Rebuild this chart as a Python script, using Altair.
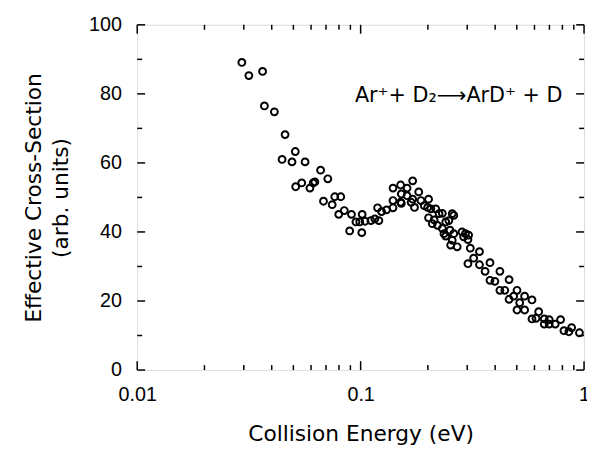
import altair as alt
import pandas as pd

# Collision energy (eV)
energy = [0.0294, 0.0316, 0.0364, 0.0371, 0.0411, 0.0459, 0.0445, 0.0493, 0.0510, 0.0564,
          0.0662, 0.0713, 0.0512, 0.0545, 0.0593, 0.0613, 0.0624, 0.0682, 0.0746, 0.0766,
          0.0815, 0.0798, 0.0845, 0.0910, 0.0953, 0.0991, 0.1016, 0.1047, 0.0893, 0.1012,
          0.1112, 0.1158, 0.1207, 0.1191, 0.1241, 0.1306, 0.1396, 0.1396, 0.1396, 0.1510,
          0.1521, 0.1614, 0.1710, 0.1614, 0.1510, 0.1710, 0.1820, 0.1862, 0.1742, 0.1927,
          0.2014, 0.2061, 0.2168, 0.2244, 0.2321, 0.2014, 0.2133, 0.2094, 0.2208, 0.2321,
          0.2483, 0.2570, 0.2512, 0.2404, 0.2570, 0.2529, 0.1521, 0.1683, 0.1995, 0.2612,
          0.2404, 0.2361, 0.2612, 0.2704, 0.2844, 0.2944, 0.2891, 0.3043, 0.3022, 0.3097,
          0.3404, 0.3206, 0.3022, 0.3404, 0.3793, 0.3606, 0.4201, 0.3793, 0.3990, 0.4618,
          0.4201, 0.4418, 0.5012, 0.4618, 0.4842, 0.5420, 0.5152, 0.5848, 0.5012, 0.5420,
          0.6266, 0.5848, 0.6095, 0.6637, 0.6982, 0.6637, 0.6982, 0.7430, 0.7852, 0.8128,
          0.8551, 0.9537, 0.8800]

# Effective cross-section (arb. units)
cross = [89.1, 85.3, 86.5, 76.5, 74.8, 68.2, 61.0, 60.3, 63.3, 60.3,
         57.9, 55.4, 53.1, 54.2, 52.7, 54.2, 54.5, 48.9, 47.9, 50.2,
         50.2, 45.1, 46.2, 45.1, 42.9, 42.9, 45.1, 43.1, 40.3, 39.8,
         43.3, 43.8, 43.3, 47.0, 45.9, 46.4, 47.0, 49.1, 52.7, 53.6,
         51.0, 52.7, 54.8, 50.5, 48.6, 49.5, 51.6, 49.1, 47.1, 47.6,
         49.5, 46.7, 46.7, 45.3, 45.4, 44.1, 43.5, 42.4, 41.9, 41.0,
         43.3, 45.3, 40.5, 38.8, 37.6, 36.2, 48.3, 48.6, 47.1, 44.8,
         42.9, 39.5, 39.5, 35.7, 40.0, 39.5, 38.6, 39.1, 37.8, 35.3,
         34.3, 32.4, 30.8, 30.5, 31.1, 28.6, 28.6, 26.0, 25.7, 26.2,
         23.1, 23.1, 23.1, 20.5, 21.4, 21.4, 19.5, 20.3, 17.4, 17.4,
         16.9, 14.8, 15.0, 14.8, 14.6, 13.3, 13.3, 13.3, 14.6, 11.4,
         11.1, 10.8, 12.3]

x_major = [0.01, 0.1, 1]
x_minor = [0.02, 0.03, 0.04, 0.05, 0.06, 0.07, 0.08, 0.09,
           0.2, 0.3, 0.4, 0.5, 0.6, 0.7, 0.8, 0.9]
y_major = [0, 20, 40, 60, 80, 100]
y_minor = [10, 30, 50, 70, 90]

ann_x = [0.80]
ann_y = [77.5]
ann_text = ["Ar\u207a+ D\u2082\u27f6ArD\u207a + D"]

W, H = 453, 350
FONT = "Liberation Sans"
TFONT = "DejaVu Sans"

df = pd.DataFrame({"E": energy, "S": cross})

xscale = alt.Scale(type="log", domain=[0.01, 1], nice=False)
yscale = alt.Scale(domain=[0, 100], nice=False)

points = alt.Chart(df).mark_point(
    shape="circle", filled=False, color="black", size=48, strokeWidth=2, opacity=1
).encode(
    x=alt.X("E:Q", scale=xscale,
            axis=alt.Axis(values=x_major, format="~g", domain=False, ticks=False, grid=False,
                          labelFlush=False, labelOverlap=False,
                          labelFont=FONT, labelFontSize=20, labelColor="black", labelPadding=15,
                          title="Collision Energy (eV)", titleFont=TFONT, titleFontSize=22,
                          titleFontWeight="normal", titleColor="black", titleY=71,
                          titleBaseline="alphabetic")),
    y=alt.Y("S:Q", scale=yscale,
            axis=alt.Axis(values=y_major, domain=False, ticks=False, grid=False,
                          labelFlush=False, labelOverlap=False,
                          labelFont=FONT, labelFontSize=20, labelColor="black", labelPadding=16,
                          title=["Effective Cross-Section", "(arb. units)"], titleFont=TFONT,
                          titleFontSize=22, titleFontWeight="normal", titleColor="black",
                          titleX=-105, titleY=H / 2, titleAngle=-90, titleBaseline="middle",
                          titleAlign="center", titleLineHeight=27)),
)


def xticks(vals, length, top):
    d = pd.DataFrame({"v": vals})
    if top:
        y0, y1 = 0, length
    else:
        y0, y1 = H, H - length
    return alt.Chart(d).mark_rule(color="black", strokeWidth=1.5).encode(
        x=alt.X("v:Q", scale=xscale), y=alt.value(y0), y2=alt.value(y1))


def yticks(vals, length, right):
    d = pd.DataFrame({"v": vals})
    if right:
        x0, x1 = W, W - length
    else:
        x0, x1 = 0, length
    return alt.Chart(d).mark_rule(color="black", strokeWidth=1.5).encode(
        y=alt.Y("v:Q", scale=yscale), x=alt.value(x0), x2=alt.value(x1))


ticks = [
    xticks(x_major, 9, False), xticks(x_minor, 5, False),
    xticks(x_major, 9, True), xticks(x_minor, 5, True),
    yticks(y_major, 8, False), yticks(y_minor, 5, False),
    yticks(y_major, 8, True), yticks(y_minor, 5, True),
]

ann = alt.Chart(pd.DataFrame({"x": ann_x, "y": ann_y, "t": ann_text})).mark_text(
    font=TFONT, fontSize=21, color="black", align="right", baseline="alphabetic"
).encode(x=alt.X("x:Q", scale=xscale), y=alt.Y("y:Q", scale=yscale), text="t:N")

chart = alt.layer(points, *ticks, ann).properties(
    width=W, height=H,
    autosize=alt.AutoSizeParams(type="none"),
    padding={"left": 131, "top": 14, "right": 3, "bottom": 78},
).configure_view(stroke="black", strokeWidth=2.2).configure(background="white")

chart.save("out.html", embed_options={"renderer": "svg", "actions": False})
